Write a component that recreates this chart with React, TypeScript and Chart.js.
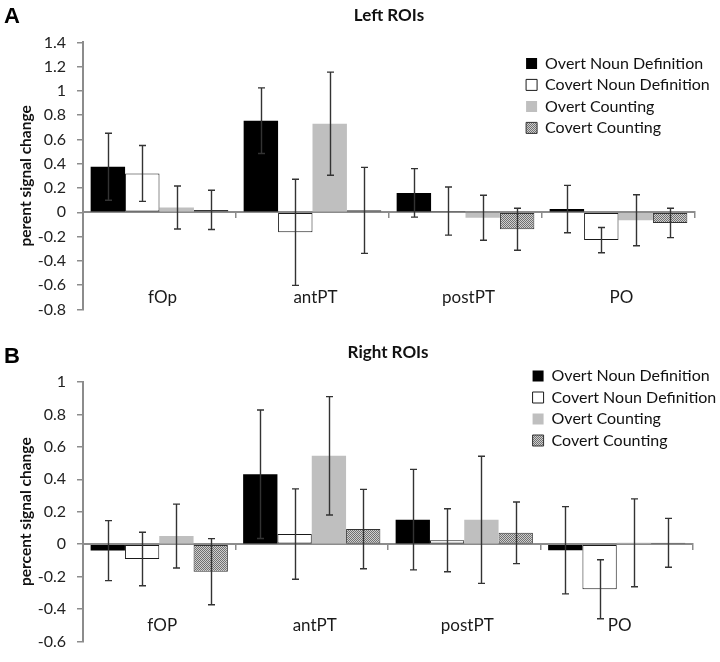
import React, { useEffect, useRef } from 'react';
import { Chart, registerables } from 'chart.js';

Chart.register(...registerables);

// ---------- data ----------
const seriesNames = ['Overt Noun Definition', 'Covert Noun Definition', 'Overt Counting', 'Covert Counting'];

const leftCategories = ['fOp', 'antPT', 'postPT', 'PO'];
const leftOvertNoun = [0.375, 0.755, 0.16, 0.027];
const leftOvertNounErr = [0.276, 0.27, 0.2, 0.195];
const leftCovertNoun = [0.32, -0.165, 0.01, -0.229];
const leftCovertNounErr = [0.23, 0.437, 0.198, 0.104];
const leftOvertCount = [0.04, 0.73, -0.045, -0.065];
const leftOvertCountErr = [0.177, 0.425, 0.185, 0.21];
const leftCovertCount = [0.02, 0.016, -0.14, -0.088];
const leftCovertCountErr = [0.162, 0.354, 0.173, 0.121];
const leftTicks = [-0.8, -0.6, -0.4, -0.2, 0, 0.2, 0.4, 0.6, 0.8, 1, 1.2, 1.4];

const rightCategories = ['fOP', 'antPT', 'postPT', 'PO'];
const rightOvertNoun = [-0.04, 0.431, 0.151, -0.038];
const rightOvertNounErr = [0.185, 0.396, 0.31, 0.269];
const rightCovertNoun = [-0.092, 0.062, 0.024, -0.278];
const rightCovertNounErr = [0.165, 0.279, 0.194, 0.182];
const rightOvertCount = [0.05, 0.545, 0.15, 0.008];
const rightOvertCountErr = [0.197, 0.365, 0.392, 0.271];
const rightCovertCount = [-0.17, 0.093, 0.07, 0.008];
const rightCovertCountErr = [0.204, 0.245, 0.19, 0.151];
const rightTicks = [-0.6, -0.4, -0.2, 0, 0.2, 0.4, 0.6, 0.8, 1];

// ---------- helpers ----------
const FONT = 'Lato';
const AXIS_GRAY = '#8c8c8c';

function makeHatch(): CanvasPattern | string {
  const c = document.createElement('canvas');
  c.width = 2;
  c.height = 2;
  const g = c.getContext('2d');
  if (!g) return '#a0a0a0';
  g.fillStyle = '#cfcfcf';
  g.fillRect(0, 0, 2, 2);
  g.fillStyle = '#707070';
  g.fillRect(0, 0, 1, 1);
  g.fillRect(1, 1, 1, 1);
  const p = g.createPattern(c, 'repeat');
  return p || '#a0a0a0';
}

const errorBarPlugin = {
  id: 'errorBars',
  afterDatasetsDraw(chart: any) {
    const ctx = chart.ctx;
    const y = chart.scales.y;
    chart.data.datasets.forEach((ds: any, di: number) => {
      const meta = chart.getDatasetMeta(di);
      meta.data.forEach((bar: any, i: number) => {
        const v = ds.data[i];
        const e = ds.errors[i];
        const yT = y.getPixelForValue(v + e);
        const yB = y.getPixelForValue(v - e);
        const x = Math.round(bar.x) + 0.5;
        ctx.save();
        ctx.strokeStyle = '#333333';
        ctx.lineWidth = 1.4;
        ctx.beginPath();
        ctx.moveTo(x, yT);
        ctx.lineTo(x, yB);
        ctx.moveTo(x - 3.5, yT);
        ctx.lineTo(x + 3.5, yT);
        ctx.moveTo(x - 3.5, yB);
        ctx.lineTo(x + 3.5, yB);
        ctx.stroke();
        ctx.restore();
      });
    });
  },
};

const categoryLabelPlugin = {
  id: 'catLabels',
  afterDatasetsDraw(chart: any, _args: any, opts: any) {
    const ctx = chart.ctx;
    const x = chart.scales.x;
    const y = chart.scales.y;
    ctx.save();
    ctx.font = `17px ${FONT}`;
    ctx.fillStyle = '#1a1a1a';
    ctx.textAlign = 'center';
    ctx.textBaseline = 'middle';
    chart.data.labels.forEach((lab: string, i: number) => {
      ctx.fillText(lab, x.getPixelForValue(i) + 3, y.getPixelForValue(opts.at));
    });
    ctx.restore();
  },
};

const panelLetterPlugin = {
  id: 'panelLetter',
  afterDraw(chart: any, _args: any, opts: any) {
    const ctx = chart.ctx;
    ctx.save();
    ctx.font = `bold 22px "Liberation Sans", Arial, sans-serif`;
    ctx.fillStyle = '#000';
    ctx.textAlign = 'left';
    ctx.textBaseline = 'alphabetic';
    ctx.fillText(opts.text, opts.x, opts.y);
    ctx.restore();
  },
};

const legendPlacePlugin = {
  id: 'legendPlace',
  afterLayout(chart: any, _args: any, opts: any) {
    const lg = chart.legend;
    if (!lg) return;
    const ca = chart.chartArea;
    const w = lg.width;
    const h = lg.height;
    lg.left = ca.left + opts.fx * (ca.right - ca.left);
    lg.top = ca.top + opts.dy;
    lg.right = lg.left + w;
    lg.bottom = lg.top + h;
  },
};

interface PanelSpec {
  title: string;
  letter: string;
  letterY: number;
  yTitle: string;
  categories: string[];
  values: number[][];
  errors: number[][];
  ticks: number[];
  labelAt: number;
  titlePad: { top: number; bottom: number };
  layoutPad: { left: number; right: number; top: number; bottom: number };
  legendFx: number;
  legendDy: number;
  height: number;
}

const leftSpec: PanelSpec = {
  title: 'Left ROIs',
  letter: 'A',
  letterY: 23,
  yTitle: 'perent signal change',
  categories: leftCategories,
  values: [leftOvertNoun, leftCovertNoun, leftOvertCount, leftCovertCount],
  errors: [leftOvertNounErr, leftCovertNounErr, leftOvertCountErr, leftCovertCountErr],
  ticks: leftTicks,
  labelAt: -0.7,
  titlePad: { top: 5, bottom: 17 },
  layoutPad: { left: 0, right: 25, top: 0, bottom: 19 },
  legendFx: 0.715,
  legendDy: 7.5,
  height: 330,
};

const rightSpec: PanelSpec = {
  title: 'Right ROIs',
  letter: 'B',
  letterY: 33,
  yTitle: 'percent signal change',
  categories: rightCategories,
  values: [rightOvertNoun, rightCovertNoun, rightOvertCount, rightCovertCount],
  errors: [rightOvertNounErr, rightCovertNounErr, rightOvertCountErr, rightCovertCountErr],
  ticks: rightTicks,
  labelAt: -0.5,
  titlePad: { top: 12, bottom: 19.6 },
  layoutPad: { left: 0, right: 27, top: 0, bottom: 10 },
  legendFx: 0.728,
  legendDy: -19.5,
  height: 332,
};

function Panel({ spec }: { spec: PanelSpec }) {
  const ref = useRef<HTMLCanvasElement | null>(null);
  useEffect(() => {
    if (!ref.current) return;
    const hatch = makeHatch();
    const styles = [
      { backgroundColor: '#000000', borderColor: '#000000', borderWidth: 0 },
      { backgroundColor: '#ffffff', borderColor: '#1a1a1a', borderWidth: 1 },
      { backgroundColor: '#bfbfbf', borderColor: '#bfbfbf', borderWidth: 0 },
      { backgroundColor: hatch, borderColor: '#333333', borderWidth: 1 },
    ];
    const chart = new Chart(ref.current, {
      type: 'bar',
      data: {
        labels: spec.categories,
        datasets: seriesNames.map((name, i) => ({
          label: name,
          data: spec.values[i],
          errors: spec.errors[i],
          ...styles[i],
          borderSkipped: false,
          categoryPercentage: 0.9,
          barPercentage: 1.0,
        })) as any,
      },
      options: {
        responsive: false,
        animation: false,
        layout: { padding: spec.layoutPad },
        scales: {
          x: {
            position: { y: 0 } as any,
            offset: true,
            border: { display: true, color: AXIS_GRAY, width: 2 },
            grid: {
              display: true,
              drawOnChartArea: false,
              drawTicks: true,
              tickLength: 5,
              color: AXIS_GRAY,
              lineWidth: 1.5,
              offset: true,
            },
            ticks: { display: false },
          },
          y: {
            min: spec.ticks[0],
            max: spec.ticks[spec.ticks.length - 1],
            afterFit: (s: any) => {
              s.width = 83;
            },
            afterBuildTicks: (s: any) => {
              s.ticks = spec.ticks.map((v) => ({ value: v }));
            },
            border: { display: true, color: AXIS_GRAY, width: 2 },
            grid: {
              drawOnChartArea: false,
              drawTicks: true,
              tickLength: 6,
              color: AXIS_GRAY,
              lineWidth: 1.5,
            },
            ticks: {
              padding: 11,
              color: '#222',
              font: { family: FONT, size: 16 },
              callback: (v: any) => String(Number(Number(v).toFixed(1))),
            },
            title: {
              display: true,
              text: spec.yTitle,
              color: '#111',
              font: { family: FONT, size: 15.5, weight: 'bold' },
              padding: { top: 17, bottom: 0 },
            },
          },
        },
        plugins: {
          title: {
            display: true,
            text: spec.title,
            fullSize: false,
            color: '#111',
            font: { family: FONT, size: 17, weight: 'bold' },
            padding: spec.titlePad,
          },
          legend: {
            display: true,
            position: 'chartArea' as any,
            align: 'start',
            labels: {
              font: { family: FONT, size: 16 },
              color: '#111',
              boxWidth: 11,
              boxHeight: 11,
              padding: 5.5,
            },
          },
          tooltip: { enabled: false },
          catLabels: { at: spec.labelAt },
          panelLetter: { text: spec.letter, x: 4, y: spec.letterY },
          legendPlace: { fx: spec.legendFx, dy: spec.legendDy },
        } as any,
      },
      plugins: [errorBarPlugin, categoryLabelPlugin, panelLetterPlugin, legendPlacePlugin],
    });
    return () => chart.destroy();
  }, [spec]);
  return <canvas ref={ref} width={720} height={spec.height} style={{ display: 'block', width: 720, height: spec.height }} />;
}

export default function App() {
  return (
    <div style={{ position: 'absolute', left: 0, top: 0, width: 720, height: 662, background: '#fff' }}>
      <Panel spec={leftSpec} />
      <Panel spec={rightSpec} />
    </div>
  );
}
